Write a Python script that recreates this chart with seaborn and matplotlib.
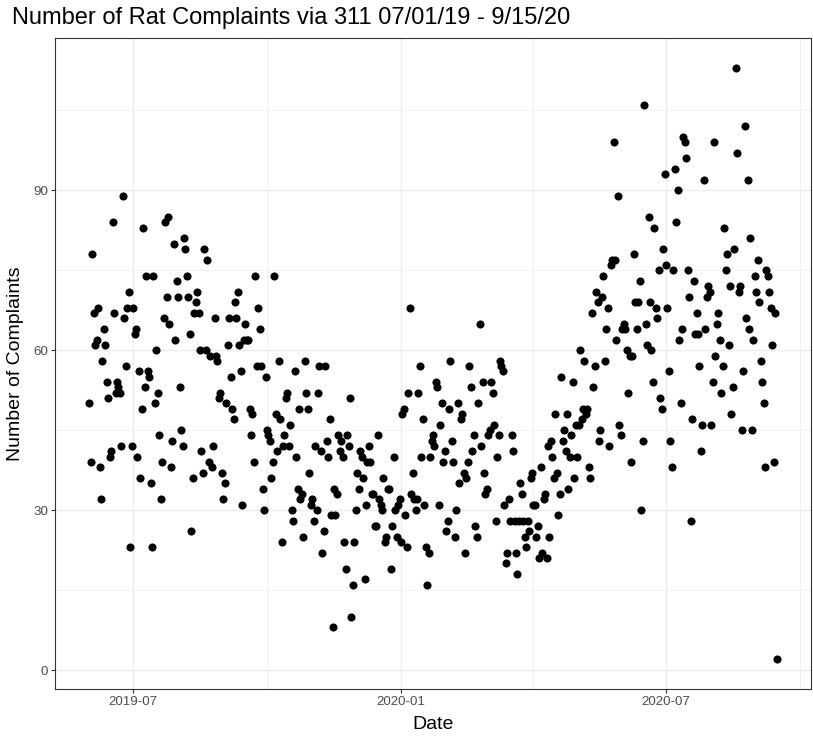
import numpy as np
import pandas as pd
import matplotlib
matplotlib.use("Agg")
import matplotlib.pyplot as plt
import matplotlib.dates as mdates
import seaborn as sns

# ---------------- data (daily counts) ----------------
start_date = "2019-06-01"

complaints_jun_2019 = [50, 39, 78, 67, 61, 62, 68, 38, 32, 58,
                       64, 61, 54, 51, 40, 41, 84, 67, 52, 54,
                       53, 52, 42, 89, 66, 57, 68, 71, 23, 42,
                       68, 63, 64, 40, 56, 36, 49, 83, 53, 74,
                       56, 55, 35, 23]
complaints_jul_sep_2019 = [74, 50, 60, 52, 44, 32, 39, 66, 84, 70,
                           85, 65, 38, 43, 80, 62, 73, 70, 53, 45,
                           42, 81, 79, 74, 70, 63, 26, 36, 67, 69,
                           71, 67, 60, 41, 37, 79, 60, 77, 39, 59,
                           38, 42, 66, 59, 58, 51, 52, 37, 32, 35,
                           50, 61, 66, 55, 49, 47, 69, 66, 71, 61,
                           56, 31, 62, 65]
complaints_sep_nov_2019 = [62, 62, 49, 44, 48, 39, 74, 57, 68, 64,
                           57, 34, 30, 55, 45, 44, 43, 36, 39, 74,
                           48, 41, 58, 47, 24, 42, 44, 51, 52, 42,
                           46, 30, 28, 56, 40, 34, 49, 32, 33, 25,
                           58, 52, 49, 37, 31, 32, 28, 42, 30, 52,
                           57, 41, 22, 26, 57, 43, 40, 47, 29, 8,
                           34, 29, 33, 44, 41]
complaints_nov_2019_jan_2020 = [43, 40, 24, 19, 44, 42, 51, 10, 16, 24,
                                30, 37, 34, 41, 40, 36, 17, 31, 39, 42,
                                39, 33, 33, 27, 27, 44, 32, 31, 30, 36,
                                24, 25, 34, 34, 19, 27, 40, 30, 25, 31,
                                32, 24, 48, 49, 29, 23, 52, 68, 33, 37,
                                32, 30, 32, 52, 57, 40, 47, 31, 23, 16,
                                22, 40, 43, 44, 42]
complaints_jan_mar_2020 = [54, 53, 31, 46, 50, 39, 41, 26, 28, 49,
                           58, 43, 39, 25, 30, 50, 35, 47, 48, 37,
                           22, 36, 39, 57, 53, 41, 44, 27, 25, 50,
                           65, 42, 54, 37, 33, 34, 44, 45, 54, 52,
                           46, 28, 40, 44, 58, 57, 56, 31, 20, 22,
                           32, 28, 44, 41, 28, 22, 18, 28, 35, 33,
                           28, 25, 23]
complaints_mar_may_2020 = [28, 26, 36, 37, 31, 31, 25, 27, 21, 38,
                           22, 32, 33, 21, 42, 25, 43, 40, 36, 48,
                           37, 29, 33, 55, 43, 45, 41, 48, 34, 40,
                           44, 54, 36, 46, 40, 46, 60, 47, 49, 58,
                           48, 49, 38, 36, 67, 53, 57, 71, 69, 43,
                           45, 70, 74, 58, 64, 68, 42, 76, 77, 99,
                           77, 62, 89, 46, 44]
complaints_jun_aug_2020 = [64, 65, 64, 60, 52, 59, 39, 59, 78, 69,
                           64, 69, 73, 30, 43, 106, 65, 61, 85, 69,
                           60, 54, 83, 68, 66, 75, 51, 49, 79, 93,
                           76, 68, 56, 43, 38, 75, 94, 84, 90, 62,
                           50, 64, 100, 99, 96, 75, 70, 28, 47, 73,
                           63, 67, 63, 57, 41, 46, 92, 64, 70, 72,
                           71, 46, 54, 99, 59]
complaints_aug_sep_2020 = [65, 67, 62, 52, 57, 83, 75, 78, 61, 72,
                           48, 53, 79, 113, 97, 71, 72, 45, 56, 102,
                           66, 92, 64, 81, 45, 62, 74, 71, 77, 69,
                           58, 54, 50, 38, 75, 74, 71, 68, 61, 39,
                           67, 2]

y_ticks = [0, 30, 60, 90]
y_minor_ticks = [15, 45, 75, 105]
title_text = "Number of Rat Complaints via 311 07/01/19 - 9/15/20"
x_label = "Date"
y_label = "Number of Complaints"

values = (complaints_jun_2019 + complaints_jul_sep_2019 + complaints_sep_nov_2019 +
          complaints_nov_2019_jan_2020 + complaints_jan_mar_2020 +
          complaints_mar_may_2020 + complaints_jun_aug_2020 + complaints_aug_sep_2020)
dates = pd.date_range(start_date, periods=len(values), freq="D")
df = pd.DataFrame({"Date": dates, "Complaints": values})

# ---------------- style ----------------
sns.set_theme(style="white")
plt.rcParams["font.family"] = ["Liberation Sans", "DejaVu Sans"]

W, H = 813, 737
fig = plt.figure(figsize=(W / 100, H / 100), dpi=100)
fig.patch.set_facecolor("white")

left, right, top, bottom = 55, 811, 38, 689
pw, ph = right - left, bottom - top
ax = fig.add_axes([left / W, 1 - bottom / H, pw / W, ph / H])
ax.set_facecolor("white")

sns.scatterplot(data=df, x="Date", y="Complaints", ax=ax, color="black",
                s=34, linewidth=0, zorder=3, legend=False)

# ggplot-like 5% expansion
dmin, dmax = df["Date"].min(), df["Date"].max()
span = dmax - dmin
ax.set_xlim(dmin - 0.05 * span, dmax + 0.05 * span)
vmin, vmax = min(values), max(values)
rng = vmax - vmin
ax.set_ylim(vmin - 0.05 * rng, vmax + 0.05 * rng)

ax.set_yticks(y_ticks)
ax.set_yticks(y_minor_ticks, minor=True)
ax.xaxis.set_major_locator(mdates.MonthLocator(bymonth=[1, 7]))
ax.xaxis.set_minor_locator(mdates.MonthLocator(bymonth=[4, 10]))
ax.xaxis.set_major_formatter(mdates.DateFormatter("%Y-%m"))

ax.grid(which="major", color="#EBEBEB", linewidth=1.0, zorder=0)
ax.grid(which="minor", color="#F0F0F0", linewidth=0.6, zorder=0)
ax.set_axisbelow(True)

for sp in ax.spines.values():
    sp.set_visible(True)
    sp.set_color("#333333")
    sp.set_linewidth(0.8)

ax.tick_params(axis="both", which="major", direction="out", length=2.8, width=0.8,
               color="#333333", labelcolor="#4D4D4D", labelsize=9.6, pad=2.2,
               bottom=True, left=True)
ax.tick_params(axis="both", which="minor", length=0)

ax.set_xlabel(x_label, fontsize=14, color="black")
ax.set_ylabel(y_label, fontsize=14, color="black")
ax.xaxis.set_label_coords(0.5, -(716 - bottom) / ph)
ax.yaxis.set_label_coords(-(left - 24) / pw, 0.5)

fig.text(12 / W, 1 - 24 / H, title_text, ha="left", va="baseline",
         fontsize=17, color="black")

fig.savefig("out.png", dpi=100, facecolor="white")
